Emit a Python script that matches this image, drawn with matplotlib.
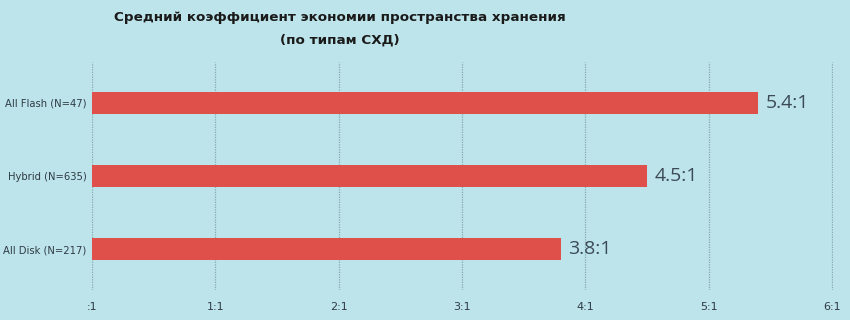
import matplotlib
matplotlib.use('Agg')
import matplotlib.pyplot as plt
import numpy as np

categories = ["All Disk (N=217)", "Hybrid (N=635)", "All Flash (N=47)"]
values = [3.8, 4.5, 5.4]
value_labels = ["3.8:1", "4.5:1", "5.4:1"]
tick_values = [0, 1, 2, 3, 4, 5, 6]
tick_labels = [":1", "1:1", "2:1", "3:1", "4:1", "5:1", "6:1"]

bg = '#bde4ea'
bar_color = '#e0504b'
text_color = '#2f3b45'

fig = plt.figure(figsize=(8.5, 3.2), dpi=100, facecolor=bg)
ax = fig.add_axes([92 / 850, 30 / 320, 741 / 850, 228 / 320], facecolor=bg)

y = np.arange(len(categories))
bars = ax.barh(y, values, height=0.3, color=bar_color, zorder=3)
for rect, lab in zip(bars, value_labels):
    ax.text(rect.get_width() + 0.06, rect.get_y() + rect.get_height() / 2, lab,
            va='center', ha='left', fontsize=14, color='#3b4a55', family='Open Sans')

ax.set_xlim(0, 6.008)
ax.set_ylim(-0.56, 2.56)
ax.set_xticks(tick_values, tick_labels)
ax.set_yticks(y, categories)
ax.tick_params(axis='both', length=0, colors=text_color)
ax.tick_params(axis='x', labelsize=8, pad=9)
ax.tick_params(axis='y', labelsize=7.2, pad=4)
ax.xaxis.grid(True, color='#86a8b3', linestyle=(0, (1, 1)), linewidth=0.9, zorder=0)
for s in ax.spines.values():
    s.set_visible(False)

title_font = dict(ha='center', va='center', fontsize=9.7, fontweight='bold', color='#1a1a1a')
fig.text(340 / 850, 1 - 17 / 320, "Средний коэффициент экономии пространства хранения", **title_font)
fig.text(340 / 850, 1 - 40 / 320, "(по типам СХД)", **title_font)

fig.savefig('out.png', dpi=100, facecolor=bg)
